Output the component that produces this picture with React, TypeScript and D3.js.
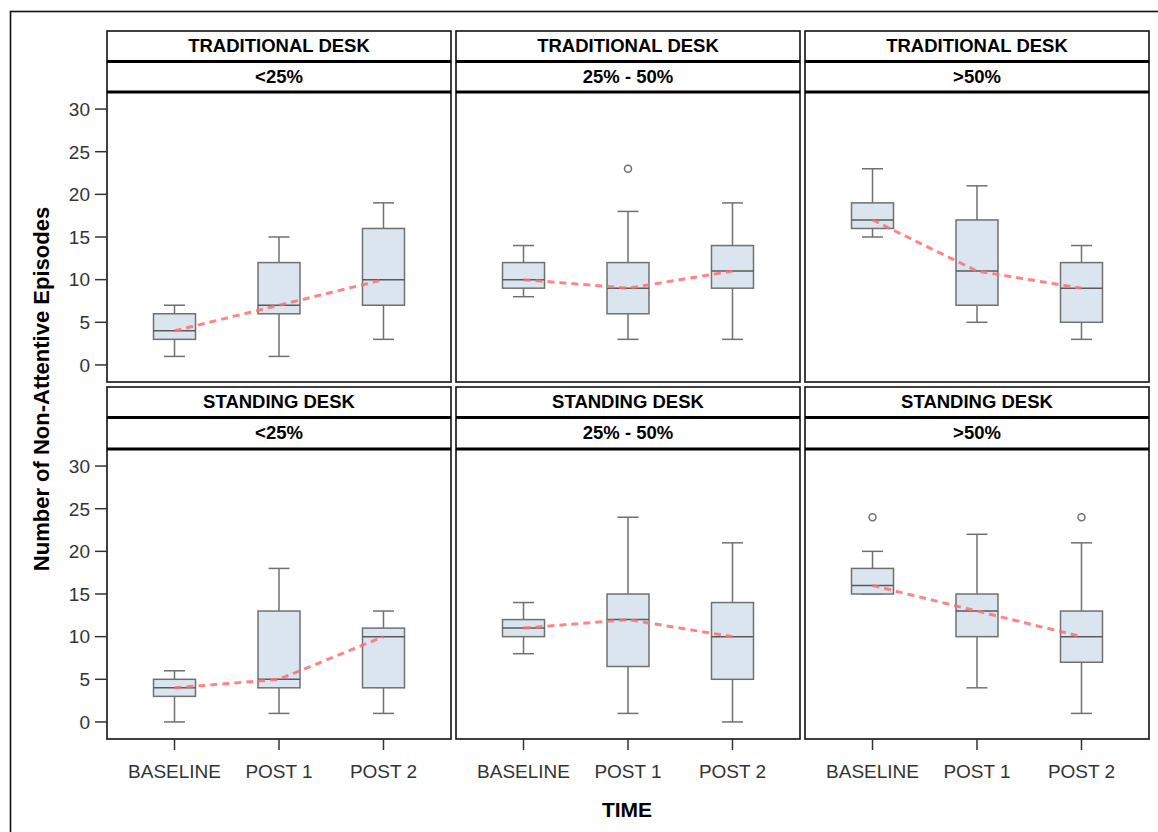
import React from "react";
import * as d3 from "d3";

// stats per time point: [whisker low, q1, median, q3, whisker high]
const desks = ["TRADITIONAL DESK", "STANDING DESK"];
const groups = ["<25%", "25% - 50%", ">50%"];
const times = ["BASELINE", "POST 1", "POST 2"];
const yTicks = [0, 5, 10, 15, 20, 25, 30];

const tradLow = [[1, 3, 4, 6, 7], [1, 6, 7, 12, 15], [3, 7, 10, 16, 19]];
const tradMid = [[8, 9, 10, 12, 14], [3, 6, 9, 12, 18], [3, 9, 11, 14, 19]];
const tradHigh = [[15, 16, 17, 19, 23], [5, 7, 11, 17, 21], [3, 5, 9, 12, 14]];
const standLow = [[0, 3, 4, 5, 6], [1, 4, 5, 13, 18], [1, 4, 10, 11, 13]];
const standMid = [[8, 10, 11, 12, 14], [1, 6.5, 12, 15, 24], [0, 5, 10, 14, 21]];
const standHigh = [[15, 15, 16, 18, 20], [4, 10, 13, 15, 22], [1, 7, 10, 13, 21]];

// outliers per time point
const tradMidOut = [[], [23], []];
const standHighOut = [[24], [], [24]];

const panelStats = [
  [tradLow, tradMid, tradHigh],
  [standLow, standMid, standHigh],
];
const panelOut = [
  [[[], [], []], tradMidOut, [[], [], []]],
  [[[], [], []], [[], [], []], standHighOut],
];

const colX = [
  [107, 451],
  [456, 800],
  [805, 1149],
];
const rowTop = [31, 387];
const plotTop = [92, 449];
const plotBottom = [382, 739];
const headH = 30.5;

const font = "'Liberation Sans', Arial, sans-serif";
const boxFill = "#dae5ef";
const boxStroke = "#707070";

const Panel = ({ r, c }) => {
  const [x0, x1] = colX[c];
  const x = d3.scalePoint().domain(times).range([x0, x1]).padding(0.646);
  const y = d3.scaleLinear().domain([-2, 32]).range([plotBottom[r], plotTop[r]]);
  const stats = panelStats[r][c];
  const outs = panelOut[r][c];
  const bw = 42;

  // dashed line through the medians
  const line = d3
    .line()
    .x((d, i) => x(times[i]))
    .y((d) => y(d[2]));

  const top = rowTop[r];
  return (
    <g>
      <rect x={x0} y={top} width={x1 - x0} height={plotBottom[r] - top} fill="none" stroke="#111" strokeWidth={1.6} />
      <line x1={x0} x2={x1} y1={top + headH} y2={top + headH} stroke="#000" strokeWidth={3} />
      <line x1={x0} x2={x1} y1={plotTop[r]} y2={plotTop[r]} stroke="#000" strokeWidth={3} />
      <text x={(x0 + x1) / 2} y={top + 21} textAnchor="middle" fontFamily={font} fontWeight="bold" fontSize={18.5} fill="#000">
        {desks[r]}
      </text>
      <text x={(x0 + x1) / 2} y={top + headH + 21.5} textAnchor="middle" fontFamily={font} fontWeight="bold" fontSize={18.5} fill="#000">
        {groups[c]}
      </text>

      {stats.map((s, i) => {
        const cx = x(times[i]);
        return (
          <g key={i} stroke={boxStroke} strokeWidth={1.5}>
            <line x1={cx} x2={cx} y1={y(s[0])} y2={y(s[1])} />
            <line x1={cx} x2={cx} y1={y(s[3])} y2={y(s[4])} />
            <line x1={cx - bw / 4} x2={cx + bw / 4} y1={y(s[0])} y2={y(s[0])} />
            <line x1={cx - bw / 4} x2={cx + bw / 4} y1={y(s[4])} y2={y(s[4])} />
            <rect x={cx - bw / 2} y={y(s[3])} width={bw} height={y(s[1]) - y(s[3])} fill={boxFill} />
            <line x1={cx - bw / 2} x2={cx + bw / 2} y1={y(s[2])} y2={y(s[2])} stroke="#5a5a5a" />
            {outs[i].map((o, j) => (
              <circle key={j} cx={cx} cy={y(o)} r={3.5} fill="none" />
            ))}
          </g>
        );
      })}

      <path d={line(stats)} fill="none" stroke="#ff7070" strokeOpacity={0.85} strokeWidth={3} strokeDasharray="7 5" />

      {c === 0 &&
        yTicks.map((t) => (
          <g key={t}>
            <line x1={x0 - 12} x2={x0} y1={y(t)} y2={y(t)} stroke="#333" strokeWidth={1.5} />
            <text x={x0 - 17} y={y(t)} dy="0.36em" textAnchor="end" fontFamily={font} fontSize={19} fill="#333">
              {t}
            </text>
          </g>
        ))}
      {r === 1 &&
        times.map((t) => (
          <g key={t}>
            <line x1={x(t)} x2={x(t)} y1={plotBottom[r]} y2={plotBottom[r] + 11} stroke="#333" strokeWidth={1.5} />
            <text x={x(t)} y={778} textAnchor="middle" fontFamily={font} fontSize={19} fill="#333">
              {t}
            </text>
          </g>
        ))}
    </g>
  );
};

const App = () => {
  return (
    <svg width={1158} height={832} style={{ position: "absolute", left: 0, top: 0, background: "#fff" }}>
      <rect x={10.5} y={11.5} width={1200} height={900} fill="none" stroke="#111" strokeWidth={1.6} />
      {desks.map((d, r) => groups.map((g, c) => <Panel key={`${r}-${c}`} r={r} c={c} />))}
      <text
        transform="translate(49,389) rotate(-90)"
        textAnchor="middle"
        fontFamily={font}
        fontWeight="bold"
        fontSize={22}
        fill="#000"
      >
        Number of Non-Attentive Episodes
      </text>
      <text x={627} y={817} textAnchor="middle" fontFamily={font} fontWeight="bold" fontSize={21} fill="#000">
        TIME
      </text>
    </svg>
  );
};

export default App;
